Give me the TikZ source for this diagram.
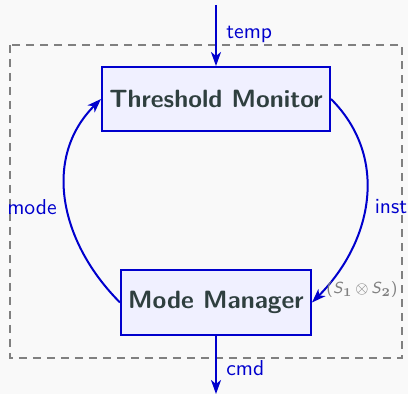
\documentclass[tikz,border=0pt]{standalone}
\usetikzlibrary{arrows.meta}
\definecolor{flowblue}{RGB}{0,0,205}
\definecolor{boxfill}{RGB}{240,240,255}
\definecolor{boxtext}{RGB}{47,63,63}
\definecolor{pagebg}{RGB}{249,249,249}
\begin{document}
\begin{tikzpicture}[
    x=0.5pt,y=-0.5pt,
    block/.style={draw=flowblue,line width=1pt,fill=boxfill,text=boxtext,
        font=\sffamily\bfseries\fontsize{12.5}{15}\selectfont,inner sep=0pt},
    flow/.style={draw=flowblue,line width=1pt,-{Stealth[length=7pt,width=5pt,inset=2pt]}},
    lbl/.style={text=flowblue,font=\sffamily\fontsize{10.8}{13}\selectfont,inner sep=1pt}
]
\fill[pagebg] (0,0) rectangle (408,394);
\useasboundingbox (0,0) rectangle (408,394);
\draw[gray,dashed,line width=0.8pt,dash pattern=on 4pt off 3pt] (10,45) rectangle (402,358);

\node[block,minimum width=114pt,minimum height=32pt] (tm) at (216,99)  {Threshold Monitor};
\node[block,minimum width=95pt,minimum height=32.5pt] (mm) at (216,302.5) {Mode Manager};
\coordinate (src) at (216,5);
\coordinate (snk) at (216,394);

\draw[flow] (src) -- (tm.north);
\draw[flow] (mm.south) -- (snk);
\draw[flow] (mm.west) to[out=135,in=-135,looseness=1.05] (tm.west);
\draw[flow] (tm.east) to[out=-45,in=45,looseness=1.05] (mm.east);

\node[lbl,anchor=west] (ltemp) at (224,34)  {temp};
\node[lbl,anchor=west] (lcmd)  at (224,368) {cmd};
\node[lbl] (lmode) at (32,207)  {mode};
\node[lbl] (linst) at (391,207) {inst};
\node[text=gray,font=\sffamily\footnotesize] (lprod) at (362,290)
    {(\textit{S}$_{\mathbf 1}\,\otimes\,$\textit{S}$_{\mathbf 2}$)};
\end{tikzpicture}
\end{document}
